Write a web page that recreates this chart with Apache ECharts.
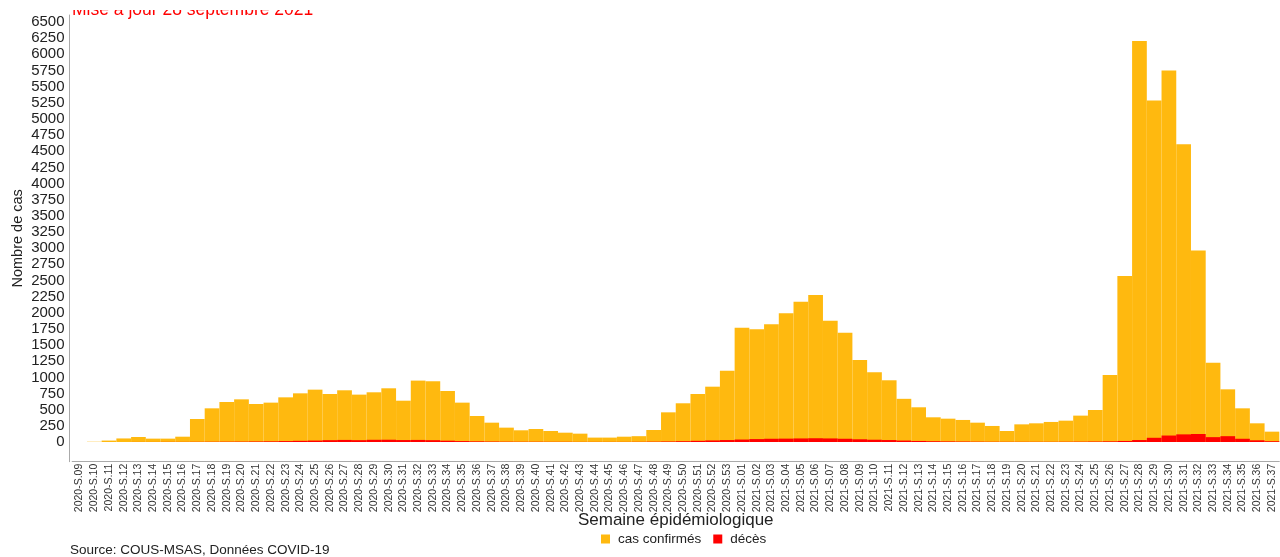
<!DOCTYPE html>
<html>
<head>
<meta charset="utf-8">
<script src="https://cdn.jsdelivr.net/npm/echarts@6/dist/echarts.min.js"></script>
<style>
html,body{margin:0;padding:0;background:#fff;}
#chart{width:1280px;height:557px;}
</style>
</head>
<body>
<div id="chart"></div>
<script>
const weeks = [
"2020-S.09","2020-S.10","2020-S.11","2020-S.12","2020-S.13","2020-S.14","2020-S.15","2020-S.16","2020-S.17","2020-S.18",
"2020-S.19","2020-S.20","2020-S.21","2020-S.22","2020-S.23","2020-S.24","2020-S.25","2020-S.26","2020-S.27","2020-S.28",
"2020-S.29","2020-S.30","2020-S.31","2020-S.32","2020-S.33","2020-S.34","2020-S.35","2020-S.36","2020-S.37","2020-S.38",
"2020-S.39","2020-S.40","2020-S.41","2020-S.42","2020-S.43","2020-S.44","2020-S.45","2020-S.46","2020-S.47","2020-S.48",
"2020-S.49","2020-S.50","2020-S.51","2020-S.52","2020-S.53",
"2021-S.01","2021-S.02","2021-S.03","2021-S.04","2021-S.05","2021-S.06","2021-S.07","2021-S.08","2021-S.09","2021-S.10",
"2021-S.11","2021-S.12","2021-S.13","2021-S.14","2021-S.15","2021-S.16","2021-S.17","2021-S.18","2021-S.19","2021-S.20",
"2021-S.21","2021-S.22","2021-S.23","2021-S.24","2021-S.25","2021-S.26","2021-S.27","2021-S.28","2021-S.29","2021-S.30",
"2021-S.31","2021-S.32","2021-S.33","2021-S.34","2021-S.35","2021-S.36","2021-S.37"
];

const casConfirmes = [
0, 4, 22, 55, 77, 52, 52, 82, 356, 521,
619, 660, 588, 609, 691, 753, 810, 743, 800, 733,
769, 831, 639, 950, 940, 789, 609, 402, 299, 222,
181, 201, 170, 144, 129, 68, 68, 82, 90, 186,
459, 599, 743, 856, 1104,
1769, 1744, 1822, 1992, 2172, 2276, 1878, 1692, 1269, 1079,
955, 668, 537, 382, 361, 341, 299, 248, 170, 273,
289, 310, 330, 408, 495, 1037, 2570, 6207, 5283, 5748,
4608, 2962, 1228, 815, 521, 289, 160
];

const deces = [
0, 0, 0, 0, 1, 1, 2, 2, 3, 4,
5, 6, 8, 10, 14, 18, 22, 28, 32, 28,
34, 35, 30, 32, 28, 20, 14, 10, 7, 5,
4, 4, 3, 3, 2, 2, 2, 2, 3, 5,
8, 12, 18, 24, 30,
38, 45, 50, 52, 55, 58, 55, 50, 42, 35,
30, 22, 16, 12, 9, 7, 5, 4, 3, 3,
3, 3, 4, 5, 7, 10, 16, 30, 65, 100,
118, 124, 75, 90, 50, 26, 12
];

const yTicks = [0,250,500,750,1000,1250,1500,1750,2000,2250,2500,2750,3000,3250,
3500,3750,4000,4250,4500,4750,5000,5250,5500,5750,6000,6250,6500];

const seriesNames = ["cas confirmés", "décès"];
const titleText = "Mise à jour 28 septembre 2021";
const sourceText = "Source: COUS-MSAS, Données COVID-19";

const chart = echarts.init(document.getElementById('chart'), null, {renderer: 'canvas'});
const FONT = '"Liberation Sans", Arial, sans-serif';

chart.setOption({
  animation: false,
  backgroundColor: '#ffffff',
  grid: {left: 72.2, right: 0.7, top: 15, bottom: 95.3, containLabel: false, outerBoundsMode: 'none'},
  legend: {
    data: seriesNames,
    left: 596, top: 527,
    icon: 'rect', itemWidth: 9, itemHeight: 9, itemGap: 12,
    textStyle: {fontFamily: FONT, fontSize: 13.5, color: '#222', padding: [0,0,0,3]}
  },
  xAxis: {
    type: 'category',
    data: weeks,
    boundaryGap: true,
    axisLine: {show: true, onZero: false, lineStyle: {color: '#aaaaaa', width: 1}},
    axisTick: {show: false},
    axisLabel: {rotate: 90, interval: 0, fontSize: 10.5, margin: 2, color: '#333',
                fontFamily: FONT, padding: [7,0,0,0]},
    splitLine: {show: false},
    name: 'Semaine épidémiologique',
    nameLocation: 'middle',
    nameGap: 50,
    nameMoveOverlap: false,
    nameTextStyle: {fontFamily: FONT, fontSize: 17, color: '#222'}
  },
  yAxis: {
    type: 'value',
    min: -305, max: 6608,
    offset: 2.7,
    axisLine: {show: true, lineStyle: {color: '#aaaaaa', width: 1}},
    axisTick: {show: false},
    axisLabel: {customValues: yTicks, fontSize: 15, margin: 5, color: '#222', fontFamily: FONT,
                formatter: function (v) { return String(v); }},
    splitLine: {show: false},
    name: 'Nombre de cas',
    nameLocation: 'middle',
    nameGap: 44,
    nameMoveOverlap: false,
    nameTextStyle: {fontFamily: FONT, fontSize: 14.5, color: '#222'}
  },
  series: [
    {name: seriesNames[0], type: 'bar', data: casConfirmes, barCategoryGap: '0%', barGap: '-100%',
     itemStyle: {color: '#FFB90F'}},
    {name: seriesNames[1], type: 'bar', data: deces, barCategoryGap: '0%', barGap: '-100%',
     itemStyle: {color: '#FF0000'}}
  ],
  graphic: [
    {type: 'text', x: 72, y: 1.5, z: 10,
     style: {text: titleText, fill: '#FF0000', font: '17.5px "Liberation Sans", Arial, sans-serif'}},
    {type: 'rect', x: 60, y: 0, z: 50, shape: {x: 0, y: 0, width: 300, height: 10}, style: {fill: '#ffffff'}},
    {type: 'text', left: 70, top: 543, z: 10,
     style: {text: sourceText, fill: '#222', font: '13.5px "Liberation Sans", Arial, sans-serif'}}
  ]
});
</script>
</body>
</html>
